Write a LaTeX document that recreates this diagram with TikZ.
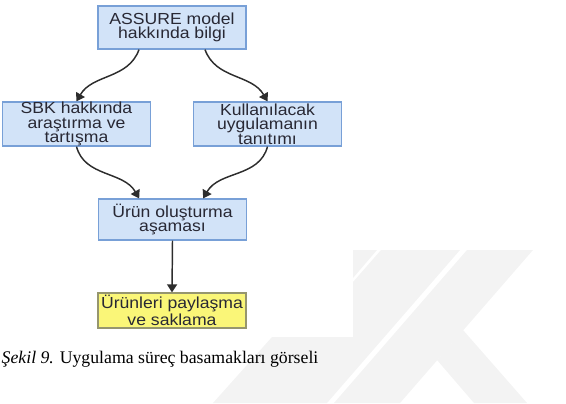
\documentclass[tikz,border=0pt]{standalone}
\usepackage{fontspec}
\setmainfont{Liberation Serif}
\newfontfamily\kutufont[FakeStretch=1.1]{Liberation Sans}
\usetikzlibrary{arrows.meta}
\definecolor{kutumavi}{RGB}{210,227,248}
\definecolor{kenarmavi}{RGB}{120,160,215}
\definecolor{kutusari}{RGB}{250,246,120}
\definecolor{kenarsari}{RGB}{150,150,110}
\definecolor{yazirengi}{RGB}{40,40,52}
\definecolor{filigran}{RGB}{243,243,243}
\definecolor{okrengi}{RGB}{45,45,45}

\begin{document}
\begin{tikzpicture}[x=0.75pt,y=-0.75pt,
	kutu/.style={draw=kenarmavi,fill=kutumavi,line width=0.9pt,align=center,inner sep=0pt,
		minimum width=111pt,text=yazirengi,font=\kutufont\fontsize{12}{10.8}\selectfont},
	sarikutu/.style={kutu,draw=kenarsari,fill=kutusari},
	ok/.style={draw=okrengi,line width=1.1pt,-{Triangle[length=6pt,width=7.5pt]}}]
	\clip (0,0) rectangle (566,403);
	\fill[filigran] (353,250) -- (377,250) -- (353,278) -- cycle;
	\fill[filigran] (381,250) -- (460,250) -- (327,403) -- (213,403) -- (272,337) -- (353,337) -- (353,282) -- cycle;
	\fill[filigran] (467,250) -- (533,250) -- (400,403) -- (334,403) -- cycle;
	\fill[filigran] (437,360) -- (463,330) -- (527,403) -- (474,403) -- cycle;
	\node[kutu,minimum height=32.25pt] (assure) at (172,27.5) {ASSURE model\\hakkında bilgi};
	\node[kutu,minimum height=33pt] (sbk) at (76.5,124) {SBK hakkında\\araştırma ve\\tartışma};
	\node[kutu,minimum height=33pt] (tanitim) at (267.5,124) {Kullanılacak\\uygulamanın\\tanıtımı};
	\node[kutu,minimum height=30.75pt] (urun) at (172.5,219.5) {Ürün oluşturma\\aşaması};
	\node[sarikutu,minimum height=26.25pt] (paylasma) at (172,310.5) {Ürünleri paylaşma\\ve saklama};
	\draw[ok] ([xshift=-24.75pt]assure.south) to[out=-110,in=60] (sbk.north);
	\draw[ok] ([xshift=24.75pt]assure.south) to[out=-70,in=120] (tanitim.north);
	\draw[ok] (sbk.south) to[out=-75,in=120] ([xshift=-25pt]urun.north);
	\draw[ok] (tanitim.south) to[out=-105,in=60] ([xshift=23pt]urun.north);
	\draw[ok] (urun.south) -- (paylasma.north);
	\node[anchor=base west,font=\fontsize{13.3}{16}\selectfont] (sekil) at (-3,363) {\textit{Şekil 9.} Uygulama süreç basamakları görseli};
\end{tikzpicture}
\end{document}
